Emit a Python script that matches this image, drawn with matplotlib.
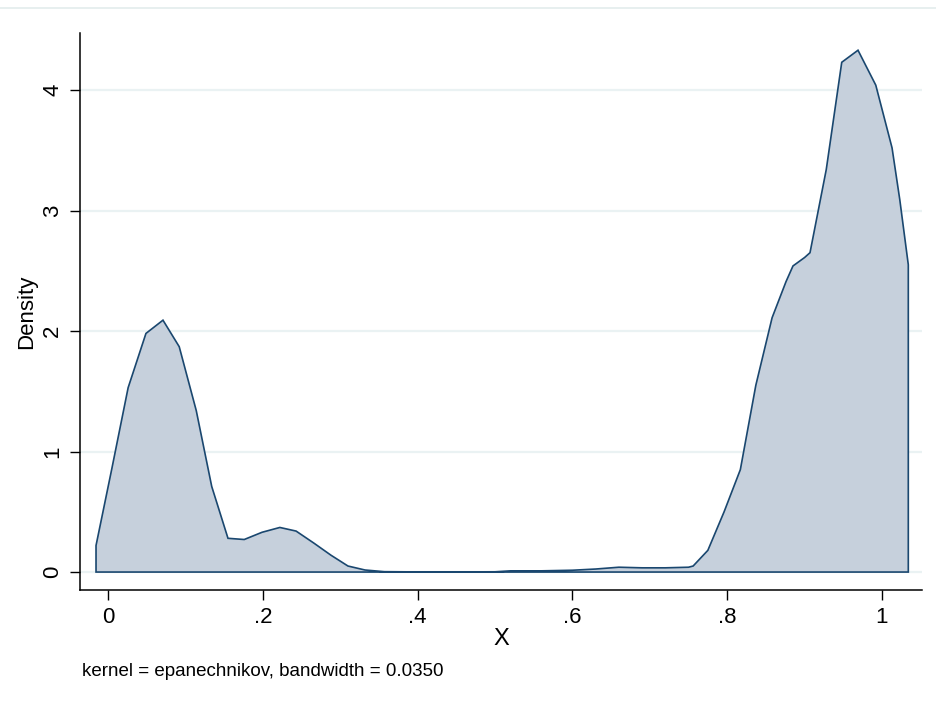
import numpy as np
import matplotlib.pyplot as plt
from matplotlib.lines import Line2D

plt.rcParams['font.family'] = ['Liberation Sans', 'DejaVu Sans']

# density estimate
x_vals = [-0.0155, -0.0155, 0.005, 0.026, 0.049, 0.071, 0.092, 0.114, 0.134,
          0.155, 0.176, 0.199, 0.222, 0.243, 0.266, 0.288, 0.31, 0.332, 0.357,
          0.40, 0.45, 0.50, 0.52, 0.56, 0.60, 0.63, 0.66, 0.69, 0.72, 0.75,
          0.756, 0.775, 0.796, 0.817, 0.837, 0.858, 0.876, 0.885, 0.90, 0.907,
          0.928, 0.948, 0.969, 0.992, 1.013, 1.023, 1.034, 1.034]
dens = [0.0, 0.22, 0.86, 1.53, 1.98, 2.09, 1.87, 1.34, 0.71,
        0.28, 0.27, 0.33, 0.37, 0.34, 0.24, 0.14, 0.05, 0.017, 0.003,
        0.001, 0.001, 0.002, 0.01, 0.01, 0.015, 0.025, 0.04, 0.035, 0.035, 0.04,
        0.05, 0.18, 0.50, 0.85, 1.55, 2.11, 2.41, 2.54, 2.61, 2.65,
        3.34, 4.23, 4.33, 4.04, 3.52, 3.09, 2.55, 0.0]

x_ticks = [0, 0.2, 0.4, 0.6, 0.8, 1.0]
x_labels = ['0', '.2', '.4', '.6', '.8', '1']
y_ticks = [0, 1, 2, 3, 4]

fig = plt.figure(figsize=(9.37, 7.06), dpi=100)
ax = fig.add_axes([80 / 937, 116 / 706, 842 / 937, 557 / 706])

for yt in y_ticks:
    ax.axhline(yt, color='#eaf2f3', lw=1.6, zorder=0)

ax.fill(x_vals, dens, facecolor='#c6d0dc', edgecolor='#1a476f', lw=1.2, zorder=2)

ax.set_xlim(-0.0362, 1.0517)
ax.set_ylim(-0.149, 4.473)
ax.set_xticks(x_ticks)
ax.set_xticklabels(x_labels)
ax.set_yticks(y_ticks)
ax.set_yticklabels([str(v) for v in y_ticks], rotation=90, va='center')
ax.tick_params(direction='out', length=7, width=1, labelsize=16, pad=5)

for s in ['top', 'right']:
    ax.spines[s].set_visible(False)
for s in ['left', 'bottom']:
    ax.spines[s].set_linewidth(1.1)

ax.set_xlabel('X', fontsize=17, labelpad=0)
ax.set_ylabel('Density', fontsize=16, labelpad=4)

fig.text(82 / 937, 1 - 671 / 706, 'kernel = epanechnikov, bandwidth = 0.0350',
         fontsize=13.5, va='center', ha='left')

# faint rule at the very top of the image
fig.add_artist(Line2D([0, 1], [1 - 8 / 706, 1 - 8 / 706], color='#e3ecec', lw=1.2))

fig.savefig('out.png', dpi=100, facecolor='white')
